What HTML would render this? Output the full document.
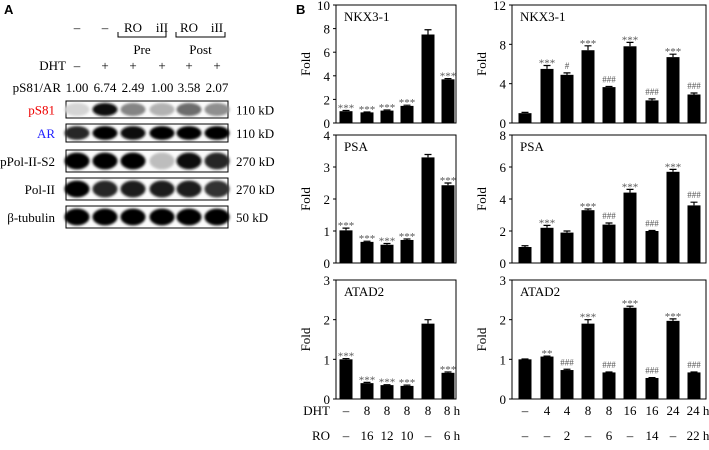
<!DOCTYPE html>
<html><head><meta charset="utf-8"><style>
body{margin:0;background:#fff;}
svg, svg text{font-family:"Liberation Serif","DejaVu Serif",serif;}
</style></head><body>
<svg id="fig" width="709" height="445" viewBox="0 0 709 445" font-family="Liberation Serif, serif">
<defs><filter id="blur" x="-30%" y="-50%" width="160%" height="200%"><feGaussianBlur stdDeviation="1.3"/></filter></defs>
<g id="panelA">
<text x="4" y="14" style="font-family:'Liberation Sans',sans-serif" font-weight="bold" font-size="13">A</text>
</g>
<g id="panelB">
<text x="296" y="14" style="font-family:'Liberation Sans',sans-serif" font-weight="bold" font-size="13">B</text>
</g>
</svg>
<script>
const NS='http://www.w3.org/2000/svg';
const leftNkx=[1.0,0.9,1.05,1.45,7.5,3.7];
const leftNkxErr=[0.06,0.03,0.05,0.06,0.4,0.06];
const leftNkxSig=['***','***','***','***','','***'];
const leftPsa=[1.02,0.66,0.57,0.72,3.3,2.43];
const leftPsaErr=[0.07,0.02,0.04,0.03,0.09,0.07];
const leftPsaSig=['***','***','***','***','','***'];
const leftAtad=[1.0,0.4,0.35,0.33,1.9,0.66];
const leftAtadErr=[0.02,0.02,0.01,0.02,0.1,0.02];
const leftAtadSig=['***','***','***','***','','***'];
const rightNkx=[1.0,5.5,4.9,7.4,3.65,7.8,2.3,6.7,2.9];
const rightNkxErr=[0.08,0.35,0.2,0.45,0.06,0.4,0.15,0.3,0.15];
const rightNkxSig=['','***','#','***','###','***','###','***','###'];
const rightPsa=[1.0,2.2,1.9,3.3,2.4,4.4,2.0,5.7,3.6];
const rightPsaErr=[0.08,0.15,0.1,0.08,0.1,0.2,0.03,0.15,0.2];
const rightPsaSig=['','***','','***','###','***','###','***','###'];
const rightAtad=[1.0,1.07,0.73,1.9,0.67,2.3,0.53,1.97,0.67];
const rightAtadErr=[0.01,0.01,0.02,0.1,0.01,0.04,0.01,0.05,0.01];
const rightAtadSig=['','**','###','***','###','***','###','***','###'];
const leftDht=['–','8','8','8','8','8 h'];
const leftRo=['–','16','12','10','–','6 h'];
const rightDht=['–','4','4','8','8','16','16','24','24 h'];
const rightRo=['–','–','2','–','6','–','14','–','22 h'];
const laneRatios=['1.00','6.74','2.49','1.00','3.58','2.07'];
const blotRows=['pS81','AR','pPol-II-S2','Pol-II','β-tubulin'];
const blotSizes=['110 kD','110 kD','270 kD','270 kD','50 kD'];
const bandIntensity=[[0.1,0.95,0.45,0.25,0.55,0.4],[0.85,1,0.95,1,1,1],[1,1,1,0.2,0.95,0.85],[1,0.85,0.9,0.9,0.9,0.8],[1,1,1,1,1,1]];

const FONT="'Liberation Serif','DejaVu Serif',serif";
const svg=document.getElementById('fig');
const gA=document.getElementById('panelA');
const gB=document.getElementById('panelB');
function el(tag,attrs,parent,text){const e=document.createElementNS(NS,tag);for(const k in attrs)e.setAttribute(k,attrs[k]);if(tag==='text')e.setAttribute('style','font-family:'+FONT);if(text!==undefined)e.textContent=text;(parent||svg).appendChild(e);return e;}

// Panel A
const laneX=[77,105,133,162,189,217];
const hdr=['–','–','RO','iII','RO','iII'];
hdr.forEach((t,i)=>{const e=el('text',{x:laneX[i],y:32,'font-size':13,'text-anchor':'middle'},gA,t);

});
[[118,166,'Pre'],[176,225,'Post']].forEach(b=>{const p=el('path',{d:`M${b[0]} 32 v5 H${b[1]} v-5`,fill:'none',stroke:'#000','stroke-width':1},gA);


const t=el('text',{x:(b[0]+b[1])/2,y:54,'font-size':13,'text-anchor':'middle'},gA,b[2]);

});
let t0=el('text',{x:66,y:70,'font-size':13,'text-anchor':'end'},gA,'DHT');


['–','+','+','+','+','+'].forEach((t,i)=>{const e=el('text',{x:laneX[i],y:70,'font-size':13,'text-anchor':'middle'},gA,t);

});
t0=el('text',{x:61,y:92,'font-size':13,'text-anchor':'end'},gA,'pS81/AR');


laneRatios.forEach((t,i)=>{const e=el('text',{x:laneX[i],y:92,'font-size':13,'text-anchor':'middle'},gA,t);

});
const rowY=[101,124,150,178,206],rowH=[17,18,22,22,22];
blotRows.forEach((name,r)=>{
 const y=rowY[r],h=rowH[r];
 const lab=el('text',{x:55,y:y+h/2+5,'font-size':13,'text-anchor':'end',fill:r==0?'#e00':(r==1?'#22f':'#000')},gA,name);
 
 
 const box=el('rect',{x:66,y:y,width:162,height:h,fill:'#fbfbfb',stroke:'#000','stroke-width':1},gA);
 
 
 laneX.forEach((x,i)=>{const v=bandIntensity[r][i];const c=Math.round(235-v*230);
  const b=el('ellipse',{cx:x,cy:y+h/2,rx:12.5,ry:h*0.38,fill:`rgb(${c},${c},${c})`,filter:'url(#blur)'},gA);
  
  });
 const s=el('text',{x:236,y:y+h/2+5,'font-size':13},gA,blotSizes[r]);
 
 
});

// Panel B charts
function chart(cfg){
 const {x0,x1,yTop,yBot,max,ticks,vals,errs,sig,centers,title,name}=cfg;
 const g=el('g',{},gB);
 
 
 const sy=v=>yBot-(v/max)*(yBot-yTop);
 const fr=el('rect',{x:x0,y:yTop,width:x1-x0,height:yBot-yTop,fill:'none',stroke:'#000','stroke-width':1},g);
 
 
 ticks.forEach(t=>{const ty=sy(t);
  const l=el('line',{x1:x0-3,x2:x0,y1:ty,y2:ty,stroke:'#000'},g);
  
  
  const tx=el('text',{x:x0-6,y:ty+5,'font-size':13,'text-anchor':'end'},g,String(t));
  
  });
 const yl=el('text',{transform:`translate(${x0-26},${(yTop+yBot)/2}) rotate(-90)`,'font-size':13,'text-anchor':'middle'},g,'Fold');
 
 
 const tt=el('text',{x:x0+8,y:yTop+16,'font-size':13},g,title);
 
 
 vals.forEach((v,i)=>{const cx=centers[i],top=sy(v),et=sy(v+errs[i]);
  const b=el('rect',{x:cx-6.5,y:top,width:13,height:yBot-top,fill:'#000'},g);
  
  
  const e=el('path',{d:`M${cx} ${top} V${et} M${cx-3.5} ${et} H${cx+3.5}`,stroke:'#000','stroke-width':1.2,fill:'none'},g);
  
  
  if(sig[i]){const star=sig[i].includes('*');const s=el('text',{x:cx,y:et-(star?-1:4),'font-size':star?11:9,'text-anchor':'middle',fill:'#555'},g,sig[i]);
   
   }
 });
}
const lC=[346,367,387,407,428,448];
const rC=[525,547,567,588,609,630,652,673,694];
chart({name:'left-nkx3-1-chart',x0:336,x1:456,yTop:5,yBot:123,max:10,ticks:[0,2,4,6,8,10],vals:leftNkx,errs:leftNkxErr,sig:leftNkxSig,centers:lC,title:'NKX3-1'});
chart({name:'left-psa-chart',x0:336,x1:456,yTop:135,yBot:263,max:4,ticks:[0,1,2,3,4],vals:leftPsa,errs:leftPsaErr,sig:leftPsaSig,centers:lC,title:'PSA'});
chart({name:'left-atad2-chart',x0:336,x1:456,yTop:280,yBot:399,max:3,ticks:[0,1,2,3],vals:leftAtad,errs:leftAtadErr,sig:leftAtadSig,centers:lC,title:'ATAD2'});
chart({name:'right-nkx3-1-chart',x0:512,x1:706,yTop:5,yBot:123,max:12,ticks:[0,4,8,12],vals:rightNkx,errs:rightNkxErr,sig:rightNkxSig,centers:rC,title:'NKX3-1'});
chart({name:'right-psa-chart',x0:512,x1:706,yTop:135,yBot:263,max:8,ticks:[0,2,4,6,8],vals:rightPsa,errs:rightPsaErr,sig:rightPsaSig,centers:rC,title:'PSA'});
chart({name:'right-atad2-chart',x0:512,x1:706,yTop:280,yBot:399,max:3,ticks:[0,1,2,3],vals:rightAtad,errs:rightAtadErr,sig:rightAtadSig,centers:rC,title:'ATAD2'});

let lbl=el('text',{x:330,y:415,'font-size':13,'text-anchor':'end'},gB,'DHT');


lbl=el('text',{x:330,y:440,'font-size':13,'text-anchor':'end'},gB,'RO');


function row(arr,centers,y,nm){arr.forEach((t,i)=>{const e=el('text',{x:centers[i]+(t.endsWith('h')?4:0),y:y,'font-size':13,'text-anchor':'middle'},gB,t);
 
 });}
row(leftDht,lC,415,'dht-time-label');row(leftRo,lC,440,'ro-time-label');
row(rightDht,rC,415,'dht-time-label');row(rightRo,rC,440,'ro-time-label');
</script>
</body></html>
